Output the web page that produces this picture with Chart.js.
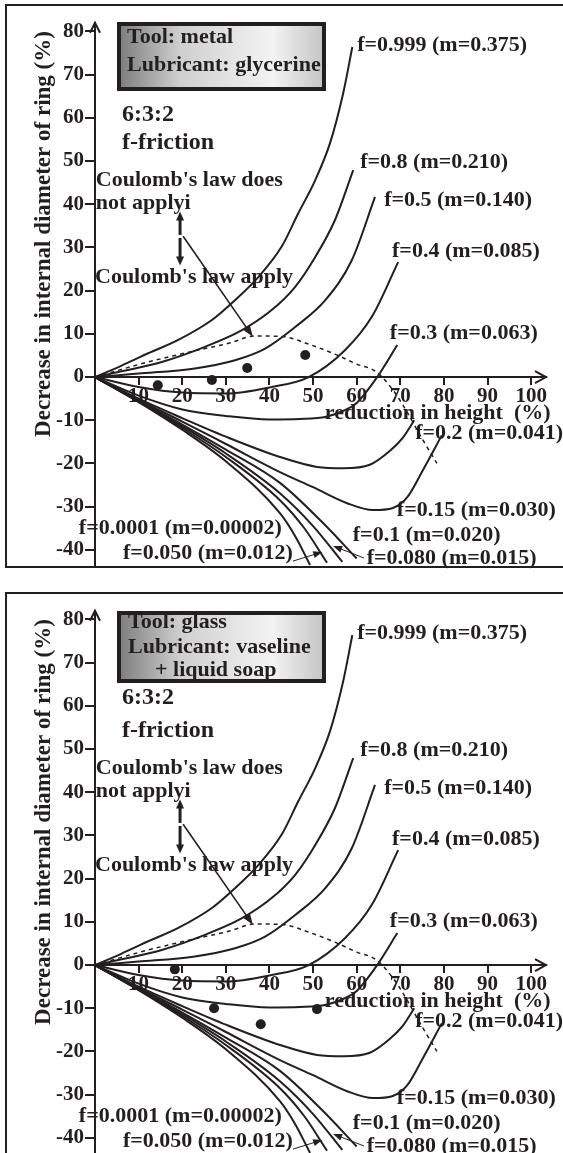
<!DOCTYPE html>
<html><head><meta charset="utf-8">
<script src="https://cdn.jsdelivr.net/npm/chart.js@4.4.1/dist/chart.umd.min.js"></script>
<style>
html,body{margin:0;padding:0;background:#fff;overflow:hidden;width:563px;height:1153px}
canvas{position:absolute;left:0}
#c1{top:0}
#c2{top:588px}
</style></head><body>
<canvas id="c1" width="563" height="588"></canvas>
<canvas id="c2" width="563" height="588"></canvas>
<script>
// ---------- data ----------
const xTickValues = [10,20,30,40,50,60,70,80,90,100];
const yTickValues = [-40,-30,-20,-10,0,10,20,30,40,50,60,70,80];

const f0999X = [0, 6, 12.2, 19.1, 26.8, 32.1, 37.5, 42.8, 46.6, 50.5, 53.9, 56.9, 59];
const f0999Y = [0, 2.6, 5.5, 8.6, 13.2, 17.8, 23.2, 30.2, 37.9, 45.6, 54.2, 65.7, 76.4];
const f08X = [0, 7, 15.3, 25.2, 33.6, 40.5, 45.9, 50.5, 55, 59.2];
const f08Y = [0, 1.5, 3.5, 7.0, 10.8, 15.5, 20.9, 27.8, 36.3, 47.9];
const f05X = [0, 10, 22.9, 32.1, 39, 45.9, 52.8, 58.9, 64.2];
const f05Y = [0, 0.8, 2.0, 3.9, 6.6, 11.6, 17.8, 27.1, 41.7];
const f04X = [0, 10, 20, 30, 40, 49, 57.3, 63.5, 69.5];
const f04Y = [0, -2.3, -3.6, -3.8, -2.4, 0, 6.2, 14, 26.6];
const f03X = [0, 10, 20, 30, 40, 47, 53, 57, 60, 64.7, 69.3];
const f03Y = [0, -4.3, -7.5, -9, -9.8, -9.7, -9.2, -7.8, -6, 0, 7.4];
const f02X = [0, 10, 20, 30, 42.4, 50.9, 57, 63, 67.7, 70.6, 73.2];
const f02Y = [0, -5, -9.5, -13.8, -18.5, -20.8, -21.1, -20.3, -17, -14, -10];
const f015X = [0, 10, 20, 30, 42.4, 50, 57.8, 63.8, 68.3, 71.6, 75.2, 79.5];
const f015Y = [0, -5.3, -10.3, -15.5, -22, -25.5, -29.2, -30.8, -30.3, -27.8, -21.5, -13.5];
const f01X = [0, 10, 20, 30, 42.4, 52, 60];
const f01Y = [0, -5.5, -11, -16.8, -24.5, -33.5, -42];
const f008X = [0, 10, 20, 30, 42.4, 50, 56.7];
const f008Y = [0, -5.6, -11.4, -17.7, -26.9, -34.5, -42.8];
const f005X = [0, 10, 20, 30, 42.4, 48, 53.2];
const f005Y = [0, -5.7, -11.8, -18.5, -28.5, -35, -43];
const f00001X = [0, 10, 20, 30, 42.4, 46, 49.3];
const f00001Y = [0, -5.8, -12.2, -19.5, -31.5, -37, -43.5];
const boundaryX = [0, 11.5, 23, 30.6, 36.7, 42.8, 49, 55, 60, 64.5, 68.3, 70.6, 75.2, 78.4];
const boundaryY = [0, 3.3, 6.1, 7.8, 9.5, 9.4, 7.6, 5.3, 3, 1.2, -3, -6.5, -14.6, -20];

const dots1X = [14.4, 26.8, 34.9, 48.2];
const dots1Y = [-1.9, -0.7, 2.1, 5.1];
const dots2X = [18.3, 27.3, 38, 50.9];
const dots2Y = [-1, -10, -13.7, -10.2];

const curveLabels = ['f=0.999 (m=0.375)','f=0.8 (m=0.210)','f=0.5 (m=0.140)','f=0.4 (m=0.085)','f=0.3 (m=0.063)','f=0.2 (m=0.041)','f=0.15 (m=0.030)','f=0.1 (m=0.020)','f=0.080 (m=0.015)','f=0.0001 (m=0.00002)','f=0.050 (m=0.012)'];
const curveLabelX = [60.1, 60.8, 66.3, 68.1, 67.6, 73.4, 69.2, 59.1, 62.3, -3.7, 6.4];
const curveLabelY = [76.9, 49.8, 41.0, 29.2, 10.2, -13.0, -30.8, -36.6, -41.9, -35.0, -40.7];

const box1Lines = ['Tool: metal', 'Lubricant: glycerine'];
const box2Lines = ['Tool: glass', 'Lubricant: vaseline', '+ liquid soap'];

// ---------- drawing ----------
const INK = '#231f20';
const FONT = "'Liberation Serif', 'Times New Roman', serif";
Chart.defaults.font.family = FONT;
Chart.defaults.font.weight = 'bold';
Chart.defaults.color = INK;

const curves = [[f0999X,f0999Y],[f08X,f08Y],[f05X,f05Y],[f04X,f04Y],[f03X,f03Y],[f02X,f02Y],[f015X,f015Y],[f01X,f01Y],[f008X,f008Y],[f005X,f005Y],[f00001X,f00001Y]];
const P = (xs, ys) => xs.map((x, i) => ({x: x, y: ys[i]}));

function makeDatasets(dx, dy) {
  const ds = curves.map(([xs, ys]) => ({data: P(xs, ys), showLine: true, borderColor: INK, borderWidth: 2, pointRadius: 0, cubicInterpolationMode: 'monotone', clip: false}));
  ds.push({data: P(boundaryX, boundaryY), showLine: true, borderColor: INK, borderWidth: 1.5, borderDash: [4, 4], pointRadius: 0, cubicInterpolationMode: 'monotone', clip: false});
  ds.push({data: P(dx, dy), showLine: false, pointRadius: 5, pointBackgroundColor: INK, pointBorderWidth: 0, pointBorderColor: INK});
  return ds;
}

function txt(ctx, s, x, y, size, align) {
  ctx.font = 'bold ' + size + 'px ' + FONT;
  ctx.textAlign = align || 'left';
  ctx.textBaseline = 'middle';
  ctx.fillStyle = INK;
  ctx.fillText(s, x, y);
}
function arrow(ctx, x1, y1, x2, y2, lw, hl, hw) {
  const a = Math.atan2(y2 - y1, x2 - x1);
  ctx.save();
  ctx.strokeStyle = INK; ctx.fillStyle = INK; ctx.lineWidth = lw;
  ctx.beginPath(); ctx.moveTo(x1, y1);
  ctx.lineTo(x2 - Math.cos(a) * hl * 0.8, y2 - Math.sin(a) * hl * 0.8); ctx.stroke();
  ctx.beginPath(); ctx.moveTo(x2, y2);
  ctx.lineTo(x2 - Math.cos(a) * hl - Math.sin(a) * hw, y2 - Math.sin(a) * hl + Math.cos(a) * hw);
  ctx.lineTo(x2 - Math.cos(a) * hl + Math.sin(a) * hw, y2 - Math.sin(a) * hl - Math.cos(a) * hw);
  ctx.closePath(); ctx.fill();
  ctx.restore();
}

const deco = {
  id: 'deco',
  beforeDraw(chart) {
    const ctx = chart.ctx;
    ctx.save();
    ctx.strokeStyle = INK; ctx.lineWidth = 2;
    ctx.strokeRect(6, 5, 640, 562);
    ctx.restore();
  },
  afterDraw(chart, args, opts) {
    const ctx = chart.ctx;
    const xs = chart.scales.x, ys = chart.scales.y;
    const X = v => xs.getPixelForValue(v), Y = v => ys.getPixelForValue(v);
    // axis arrowheads
    ctx.save();
    ctx.strokeStyle = INK; ctx.lineWidth = 2;
    const ax = X(xs.max), ay = Y(0);
    ctx.beginPath(); ctx.moveTo(ax - 11, ay - 6); ctx.lineTo(ax, ay); ctx.lineTo(ax - 11, ay + 6); ctx.stroke();
    const tx = X(0), ty = Y(ys.max);
    ctx.beginPath(); ctx.moveTo(tx - 5, ty + 10); ctx.lineTo(tx, ty); ctx.lineTo(tx + 5, ty + 10); ctx.stroke();
    ctx.restore();
    // y axis title
    ctx.save();
    ctx.translate(44, 234); ctx.rotate(-Math.PI / 2);
    txt(ctx, 'Decrease in internal diameter of ring (%)', 0, 0, 23, 'center');
    ctx.restore();
    // x axis title
    txt(ctx, 'reduction in height  (%)', X(52.7), Y(-8.3), 22);
    // curve labels
    curveLabels.forEach((s, i) => txt(ctx, s, X(curveLabelX[i]), Y(curveLabelY[i]), 22));
    // text block
    txt(ctx, '6:3:2', X(6.2), Y(opts.ratioY), 24);
    txt(ctx, 'f-friction', X(6.2), Y(54.2), 24);
    txt(ctx, "Coulomb's law does", X(0.2), Y(45.6), 22);
    txt(ctx, 'not applyi', X(0.2), Y(40.3), 22);
    txt(ctx, "Coulomb's law apply", X(0), Y(23.1), 22);
    // arrows
    arrow(ctx, X(19.5), Y(32.9), X(19.5), Y(38.3), 3, 9, 4);
    arrow(ctx, X(19.5), Y(32.2), X(19.5), Y(25.8), 3, 9, 4);
    arrow(ctx, X(20.2), Y(32.6), X(36.2), Y(9.3), 1.6, 11, 4);
    arrow(ctx, X(45.4), Y(-42.6), X(52.1), Y(-40.5), 1, 9, 3.5);
    arrow(ctx, X(61.7), Y(-41.9), X(54.6), Y(-39.1), 1, 9, 3.5);
    // info box
    const bx = 119, by = opts.boxTop, bw = 205, bh = opts.boxH;
    const g = ctx.createLinearGradient(bx, 0, bx + bw, 0);
    g.addColorStop(0, '#7d7d7d'); g.addColorStop(0.3, '#cfcfcf'); g.addColorStop(0.75, '#f3f3f3'); g.addColorStop(1, '#c4c4c4');
    ctx.save();
    ctx.fillStyle = g; ctx.fillRect(bx, by, bw, bh);
    ctx.strokeStyle = INK; ctx.lineWidth = 4; ctx.strokeRect(bx, by, bw, bh);
    ctx.restore();
    opts.lines.forEach((s, i) => txt(ctx, s, opts.lineX[i], opts.lineY[i], 22));
  }
};

function build(id, dx, dy, boxOpts) {
  return new Chart(document.getElementById(id), {
    type: 'scatter',
    data: {datasets: makeDatasets(dx, dy)},
    plugins: [deco],
    options: {
      responsive: false, animation: false, events: [],
      layout: {padding: {left: 0, right: 17, top: 22.8, bottom: 22.6}},
      plugins: {legend: {display: false}, tooltip: {enabled: false}, deco: boxOpts},
      scales: {
        x: {
          type: 'linear', min: 0, max: 103.4, position: {y: 0},
          border: {display: true, color: INK, width: 2},
          grid: {display: true, drawOnChartArea: false, drawTicks: true, tickLength: 7, color: INK, lineWidth: 2},
          ticks: {stepSize: 10, includeBounds: false, padding: 0, maxRotation: 0, autoSkip: false, color: INK, font: {size: 21, weight: 'bold'}},
          afterBuildTicks: s => { s.ticks = xTickValues.map(v => ({value: v})); }
        },
        y: {
          type: 'linear', min: -43.6, max: 82, position: 'left',
          border: {display: true, color: INK, width: 2},
          grid: {display: true, drawOnChartArea: false, drawTicks: true, tickLength: 10, color: INK, lineWidth: 2},
          ticks: {stepSize: 10, includeBounds: false, padding: 1, autoSkip: false, color: INK, font: {size: 21, weight: 'bold'}},
          afterBuildTicks: s => { s.ticks = yTickValues.map(v => ({value: v})); },
          afterFit: s => { s.width = 95; }
        }
      }
    }
  });
}

build('c1', dots1X, dots1Y, {boxTop: 24, boxH: 65, lines: box1Lines, lineX: [127, 127], lineY: [37, 65], ratioY: 60.8});
build('c2', dots2X, dots2Y, {boxTop: 25, boxH: 68, lines: box2Lines, lineX: [128, 128, 155], lineY: [34, 59, 82], ratioY: 61.8});
</script>
</body></html>
